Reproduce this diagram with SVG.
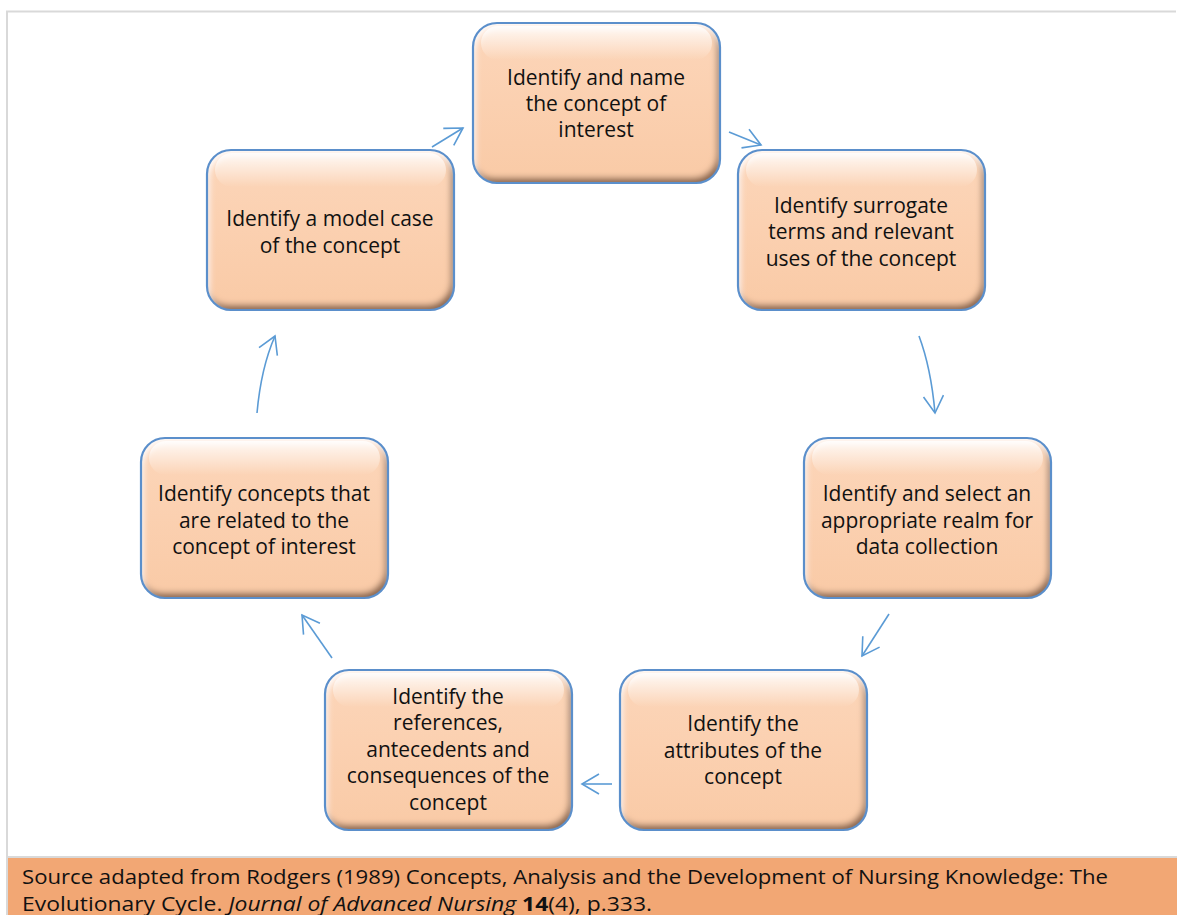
<svg xmlns="http://www.w3.org/2000/svg" width="1177" height="915" viewBox="0 0 1177 915">
<defs>
<style>
.box{fill:url(#peach);filter:url(#bevel);}
.gloss{fill:url(#shine);}
.edge{fill:none;stroke:#5B8FCB;stroke-width:2.2;}
.lbl{font-family:"Open Sans","Liberation Sans",sans-serif;font-size:21px;fill:#111;text-anchor:middle;}
.conn{fill:none;stroke:#5B9BD5;stroke-width:1.6;marker-end:url(#vhead);}
.foot{font-family:"Open Sans","Liberation Sans",sans-serif;font-size:19.5px;fill:#111;}
</style>
<linearGradient id="peach" x1="0" y1="0" x2="0" y2="1">
<stop offset="0" stop-color="#FCD6BA"/>
<stop offset="0.5" stop-color="#FBD0B0"/>
<stop offset="1" stop-color="#F9CAA6"/>
</linearGradient>
<linearGradient id="shine" x1="0" y1="0" x2="0" y2="1">
<stop offset="0" stop-color="#ffffff" stop-opacity="0.85"/>
<stop offset="1" stop-color="#ffffff" stop-opacity="0"/>
</linearGradient>
<filter id="bevel" x="-10%" y="-10%" width="120%" height="120%">
<feGaussianBlur in="SourceAlpha" stdDeviation="3" result="b"/>
<feOffset in="b" dx="-3" dy="-5" result="o1"/>
<feComposite in="SourceAlpha" in2="o1" operator="arithmetic" k2="1" k3="-1" result="inner1"/>
<feFlood flood-color="#5e3518" flood-opacity="0.85"/>
<feComposite in2="inner1" operator="in" result="shadow"/>
<feOffset in="b" dx="2" dy="5" result="o2"/>
<feComposite in="SourceAlpha" in2="o2" operator="arithmetic" k2="1" k3="-1" result="inner2"/>
<feFlood flood-color="#ffffff" flood-opacity="0.9"/>
<feComposite in2="inner2" operator="in" result="hl"/>
<feMerge><feMergeNode in="SourceGraphic"/><feMergeNode in="shadow"/><feMergeNode in="hl"/></feMerge>
</filter>
<marker id="vhead" markerUnits="userSpaceOnUse" markerWidth="22" markerHeight="24" refX="18" refY="11" orient="auto">
<path d="M1,1 L18,11 L1,21" fill="none" stroke="#5B9BD5" stroke-width="1.6"/>
</marker>
</defs>
<rect x="0" y="0" width="1177" height="915" fill="#ffffff"/>
<line x1="6" y1="11.5" x2="1176" y2="11.5" stroke="#d9d9d9" stroke-width="2"/>
<line x1="7" y1="11" x2="7" y2="915" stroke="#d9d9d9" stroke-width="2"/>
<rect x="8" y="856" width="1169" height="2" fill="#d9d9d9"/>
<rect x="8" y="858" width="1169" height="57" fill="#F2A774"/>

<g id="connectors">
<path class="conn" d="M729,132 L761,145"/>
<path class="conn" d="M919,336 Q931,368 935,413"/>
<path class="conn" d="M889,614 L862,656"/>
<path class="conn" d="M612,784 L582,784"/>
<path class="conn" d="M332,658 L302,615"/>
<path class="conn" d="M257,413 Q261,368 275,336"/>
<path class="conn" d="M432,147 L463,128"/>
</g>

<g id="n1">
<rect class="box" x="473" y="23" width="247" height="160" rx="24"/>
<rect class="gloss" x="481" y="26" width="231" height="34" rx="17"/>
<rect class="edge" x="473" y="23" width="247" height="160" rx="24"/>
<text class="lbl"><tspan x="596" y="85">Identify and name</tspan><tspan x="596" y="111">the concept of</tspan><tspan x="596" y="137">interest</tspan></text>
</g>
<g id="n2">
<rect class="box" x="738" y="150" width="247" height="160" rx="24"/>
<rect class="gloss" x="746" y="153" width="231" height="34" rx="17"/>
<rect class="edge" x="738" y="150" width="247" height="160" rx="24"/>
<text class="lbl"><tspan x="861" y="213">Identify surrogate</tspan><tspan x="861" y="239">terms and relevant</tspan><tspan x="861" y="266">uses of the concept</tspan></text>
</g>
<g id="n3">
<rect class="box" x="804" y="438" width="247" height="160" rx="24"/>
<rect class="gloss" x="812" y="441" width="231" height="34" rx="17"/>
<rect class="edge" x="804" y="438" width="247" height="160" rx="24"/>
<text class="lbl"><tspan x="927" y="501">Identify and select an</tspan><tspan x="927" y="528">appropriate realm for</tspan><tspan x="927" y="554">data collection</tspan></text>
</g>
<g id="n4">
<rect class="box" x="620" y="670" width="247" height="160" rx="24"/>
<rect class="gloss" x="628" y="673" width="231" height="34" rx="17"/>
<rect class="edge" x="620" y="670" width="247" height="160" rx="24"/>
<text class="lbl"><tspan x="743" y="731">Identify the</tspan><tspan x="743" y="758">attributes of the</tspan><tspan x="743" y="784">concept</tspan></text>
</g>
<g id="n5">
<rect class="box" x="325" y="670" width="247" height="160" rx="24"/>
<rect class="gloss" x="333" y="673" width="231" height="34" rx="17"/>
<rect class="edge" x="325" y="670" width="247" height="160" rx="24"/>
<text class="lbl"><tspan x="448" y="704">Identify the</tspan><tspan x="448" y="730">references,</tspan><tspan x="448" y="757">antecedents and</tspan><tspan x="448" y="783">consequences of the</tspan><tspan x="448" y="810">concept</tspan></text>
</g>
<g id="n6">
<rect class="box" x="141" y="438" width="247" height="160" rx="24"/>
<rect class="gloss" x="149" y="441" width="231" height="34" rx="17"/>
<rect class="edge" x="141" y="438" width="247" height="160" rx="24"/>
<text class="lbl"><tspan x="264" y="501">Identify concepts that</tspan><tspan x="264" y="528">are related to the</tspan><tspan x="264" y="554">concept of interest</tspan></text>
</g>
<g id="n7">
<rect class="box" x="207" y="150" width="247" height="160" rx="24"/>
<rect class="gloss" x="215" y="153" width="231" height="34" rx="17"/>
<rect class="edge" x="207" y="150" width="247" height="160" rx="24"/>
<text class="lbl"><tspan x="330" y="226">Identify a model case</tspan><tspan x="330" y="253">of the concept</tspan></text>
</g>

<g id="footer">
<text class="foot" x="22" y="884" textLength="1086" lengthAdjust="spacingAndGlyphs">Source adapted from Rodgers (1989) Concepts, Analysis and the Development of Nursing Knowledge: The</text>
<text class="foot" x="22" y="911" textLength="630" lengthAdjust="spacingAndGlyphs">Evolutionary Cycle. <tspan font-style="italic">Journal of Advanced Nursing</tspan> <tspan font-weight="bold">14</tspan>(4), p.333.</text>
</g>
</svg>
